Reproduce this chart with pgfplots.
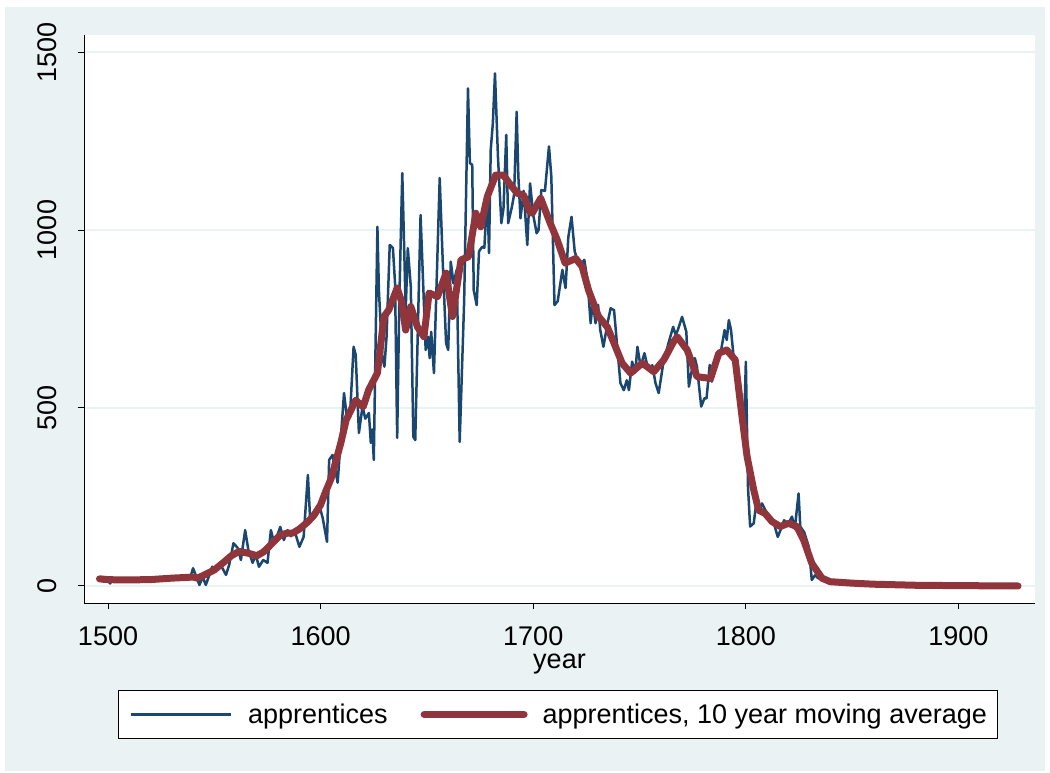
\documentclass[border=0pt]{standalone}
\usepackage{fontspec}
\setmainfont{Liberation Sans}
\usepackage{pgfplots}
\usepackage{pgfplotstable}
\pgfplotsset{compat=1.18}
\definecolor{bgc}{RGB}{234,242,243}
\definecolor{gridc}{RGB}{234,242,243}
\definecolor{sblue}{RGB}{26,71,111}
\definecolor{sred}{RGB}{144,53,59}

\pgfplotstableread{
year val
1496 22
1497 25
1498 12
1499 20
1500 15
1501 7
1502 18
1504 16
1507 17
1512 15
1516 12
1525 17
1535 22
1539 30
1540 50
1543 3
1544.5 25
1546 3
1549 54
1551 45
1553 59
1555.5 31
1557 60
1559 120
1561 107
1562.5 73
1564.5 157
1566 101
1568 65
1569.5 87
1571 54
1573 73
1575 65
1576.6 157
1578 124
1579.5 140
1581 166
1582.7 129
1584.4 157
1586 140
1588 150
1590 110
1592 138
1594 312
1595 195
1597 190
1598 205
1600 213
1601 190
1603 124
1604 354
1605.6 368
1608 290
1611 542
1612.3 476
1614 500
1615.5 672
1616.5 649
1618 430
1619.7 504
1621 470
1622.7 486
1623.6 402
1624.3 440
1625 354
1626.7 1009
1627.4 831
1629 644
1630 616
1631 700
1632.5 958
1634 949
1635 850
1636 416
1637 800
1638.4 1160
1639.5 900
1640 775
1641 949
1642.4 841
1643.6 419
1644.5 410
1647 1042
1649.4 663
1650.5 700
1651.3 640
1652 714
1653.3 598
1656 1146
1657.5 900
1659 682
1660 663
1661.2 911
1662.5 850
1664 888
1665.4 405
1667.5 800
1669.3 1398
1670.2 1188
1671.3 1183
1672 831
1673.4 789
1674.5 940
1676 953
1677 950
1678.4 1103
1679.2 935
1680 1225
1681 1300
1682 1440
1683.4 1206
1685 1019
1686 1060
1687.3 1267
1688.2 1019
1690 1066
1691 1100
1692.2 1332
1693 1150
1694 1033
1695.5 1110
1697.2 958
1698.5 1131
1700 1042
1701.6 991
1702.5 1000
1703.8 1112
1705.5 1110
1707.4 1235
1708.5 1150
1710 789
1711.5 800
1713.7 888
1715.2 837
1716.5 980
1718 1037
1719.5 940
1720.7 916
1722 900
1724 916
1725.5 860
1727 738
1728 800
1729.3 738
1730.5 790
1731.5 720
1733 672
1735 740
1736.4 780
1738 775
1739.5 672
1741 570
1742.6 550
1744 578
1745 550
1746.5 630
1748 600
1749 672
1750.5 616
1752.3 654
1754 610
1756 620
1757.5 570
1759 542
1761 620
1763.6 682
1765.8 728
1767 705
1768 719
1770 756
1772 714
1773.2 560
1775 620
1776 640
1777 616
1779 504
1780.5 527
1781.5 527
1783 621
1784 574
1786 620
1788 650
1790 719
1791 691
1792 747
1793 720
1794.3 640
1796 630
1797.5 520
1799 410
1800 630
1801 279
1802 167
1803.7 176
1805.3 251
1806.5 213
1807.6 232
1809 215
1810.5 200
1811.6 176
1813 180
1815 138
1816.5 160
1818 185
1819.5 170
1821.7 195
1823 160
1824.8 260
1825.6 167
1827.5 150
1829.6 110
1831 17
1832.5 30
1834 22
1836 18
1840 12
1845 10
1850 8
1860 6
1870 5
1880 3
1890 2
1900 1
1910 1
1920 0
1928 0
}\appr

\pgfplotstableread{
year val
1496 20
1500 18
1505 17
1510 17
1520 18
1530 22
1540 25
1542 22
1545 30
1550 45
1554.5 67
1558 85
1561.6 97
1566 92
1570 85
1573 95
1575.6 110
1578 125
1581 143
1584 148
1587 149
1590 160
1594 180
1597 200
1600 228
1602 260
1605 303
1609.5 402
1612 466
1616.5 522
1620 503
1622.6 551
1626.7 598
1629.8 757
1632 775
1636 837
1638 800
1640 719
1642.4 785
1645.5 728
1648.6 700
1651 823
1655 813
1659 879
1662 757
1666 916
1669.6 925
1673 1047
1675.3 1009
1678.4 1094
1682.3 1154
1686 1154
1689.4 1126
1692.5 1103
1695.5 1098
1698.3 1051
1699.5 1047
1703.5 1089
1708 1019
1711.3 972
1715 907
1720 920
1723 897
1726 831
1730.7 757
1734.8 728
1738 682
1741.8 626
1745.8 598
1751.3 626
1756.7 602
1761.4 635
1766 686
1767.7 700
1772.4 663
1777 588
1783.4 583
1787.3 654
1791 663
1795 635
1798 485
1800.6 363
1803.7 270
1806 213
1809 204
1812.3 181
1816.2 167
1820 176
1824 167
1827.2 129
1831 64
1835.8 22
1839.7 12
1850 8
1860 5
1880 2
1900 1
1928 0
}\mavg

\begin{document}
\begin{tikzpicture}
\useasboundingbox (0,0) rectangle (1050pt,772pt);
\fill[white] (0,0) rectangle (1050pt,772pt);
\fill[bgc] (5pt,1pt) rectangle (1045pt,765pt);
\begin{axis}[
  at={(84pt,169pt)}, anchor=south west,
  scale only axis, width=951pt, height=568pt,
  xmin=1488.7, xmax=1936.0, ymin=-47.8, ymax=1547.8,
  axis background/.style={fill=white},
  axis x line*=bottom, axis y line*=left,
  axis line style={-, black, line width=1pt},
  every outer x axis line/.append style={-},
  every outer y axis line/.append style={-},
  xtick={1500,1600,1700,1800,1900},
  ytick={0,500,1000,1500},
  tick align=outside, major tick length=6pt,
  tick style={black, line width=1pt},
  ymajorgrids, grid style={gridc, line width=2pt},
  /pgf/number format/1000 sep={},
  /pgf/number format/assume math mode=true,
  every tick label/.append style={font=\fontsize{27}{32}\selectfont},
  yticklabel style={xshift=-21pt, rotate=90, anchor=south, inner sep=0pt},
  xticklabel style={inner sep=0pt, yshift=-17pt},
  xlabel={year},
  xlabel style={font=\fontsize{27}{32}\selectfont, inner sep=0pt, yshift=-8pt},
  legend style={at={(0.0358,-0.1532)}, anchor=north west, legend columns=2,
    draw=black, line width=1pt, fill=white, inner xsep=11pt, inner ysep=13.5pt,
    font=\fontsize{27}{32}\selectfont,
    nodes={inner sep=0pt},
    /tikz/column 2/.style={column sep=33pt},
    /tikz/column 1/.style={column sep=16pt},
    /tikz/column 3/.style={column sep=15pt}},
  legend cell align=left,
  legend image code/.code={\draw[#1] (0pt,0pt) -- (100pt,0pt);},
]
\addplot[sblue, line width=2.5pt, line join=round] table[x=year,y=val] {\appr};
\addlegendentry{apprentices}
\addplot[sred, line width=7pt, line join=round, line cap=round] table[x=year,y=val] {\mavg};
\addlegendentry{apprentices, 10 year moving average}
\end{axis}
\end{tikzpicture}
\end{document}
